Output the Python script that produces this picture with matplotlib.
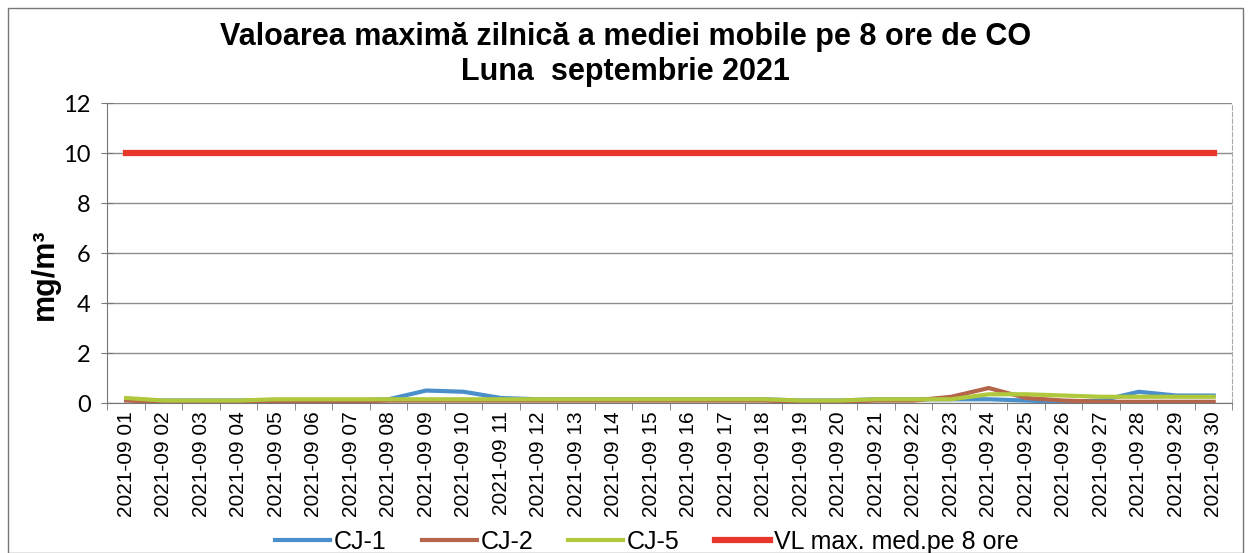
import matplotlib
matplotlib.use("Agg")
from matplotlib import pyplot as plt
from matplotlib.patches import Rectangle

# date zilnice
zile = ["2021-09 %02d" % d for d in range(1, 31)]
cj1 = [0.15, 0.10, 0.10, 0.10, 0.10, 0.10, 0.10, 0.15, 0.50, 0.45,
       0.20, 0.15, 0.15, 0.15, 0.15, 0.15, 0.15, 0.15, 0.10, 0.10,
       0.15, 0.15, 0.15, 0.15, 0.10, 0.05, 0.10, 0.45, 0.30, 0.30]
cj2 = [0.10, 0.05, 0.05, 0.05, 0.05, 0.05, 0.05, 0.10, 0.10, 0.10,
       0.10, 0.10, 0.10, 0.10, 0.10, 0.10, 0.10, 0.10, 0.05, 0.05,
       0.10, 0.10, 0.25, 0.60, 0.20, 0.10, 0.05, 0.05, 0.05, 0.05]
cj5 = [0.20, 0.10, 0.10, 0.10, 0.15, 0.15, 0.15, 0.15, 0.15, 0.15,
       0.15, 0.15, 0.15, 0.15, 0.15, 0.15, 0.15, 0.15, 0.10, 0.10,
       0.15, 0.15, 0.15, 0.35, 0.35, 0.30, 0.25, 0.25, 0.25, 0.25]
vl = [10] * 30
yticks = [0, 2, 4, 6, 8, 10, 12]

fig = plt.figure(figsize=(12.51, 5.53), dpi=100)
ax = fig.add_axes([0.0859, 0.2712, 0.8993, 0.5425])

x = list(range(len(zile)))
ax.plot(x, vl, color="#E8372A", lw=4.5, label="VL max. med.pe 8 ore", zorder=3)
ax.plot(x, cj1, color="#4A8FCB", lw=3, label="CJ-1", zorder=4)
ax.plot(x, cj2, color="#B5654A", lw=3, label="CJ-2", zorder=5)
ax.plot(x, cj5, color="#AFC83C", lw=3, label="CJ-5", zorder=6)

ax.set_xlim(-0.5, 29.5)
ax.set_ylim(0, 12)
ax.set_yticks(yticks)
ax.set_yticklabels([str(v) for v in yticks], family="Lato", fontsize=17)
ax.grid(axis="y", color="#8c8c8c", lw=1)
ax.set_axisbelow(True)

ax.set_xticks(x)
ax.set_xticklabels(zile, rotation=90, family="Liberation Sans", fontsize=15)
ax.tick_params(axis="x", length=0, pad=6)
ax.set_xticks([i + 0.5 for i in range(-1, 30)], minor=True)
ax.tick_params(axis="x", which="minor", length=5, color="#777777")
ax.tick_params(axis="y", direction="inout", length=8, color="#777777", pad=8)

ax.spines["top"].set_visible(False)
ax.spines["right"].set_color("#aaaaaa")
ax.spines["right"].set_linestyle((0, (4, 2)))
ax.spines["left"].set_color("#777777")
ax.spines["bottom"].set_color("#777777")

ax.set_ylabel("mg/m³", family="Liberation Sans", fontsize=22, fontweight="bold")
ax.yaxis.set_label_coords(-0.042, 0.43)

fig.text(0.5, 0.933, "Valoarea maximă zilnică a mediei mobile pe 8 ore de CO",
         ha="center", va="center", family="Liberation Sans", fontsize=22, fontweight="bold")
fig.text(0.5, 0.869, "Luna  septembrie 2021",
         ha="center", va="center", family="Liberation Sans", fontsize=22, fontweight="bold")

h, l = ax.get_legend_handles_labels()
order = [1, 2, 3, 0]
fig.legend([h[i] for i in order], [l[i] for i in order], loc="center",
           bbox_to_anchor=(0.517, 0.02), ncol=4, frameon=False,
           prop={"family": "Liberation Sans", "size": 18},
           handlelength=2.2, columnspacing=1.4, handletextpad=0.15,
           borderpad=0)

fig.patches.append(Rectangle((0.006, 0.0), 0.988, 0.985, transform=fig.transFigure,
                             fill=False, edgecolor="#777777", lw=1))

plt.savefig("out.png", dpi=100)
